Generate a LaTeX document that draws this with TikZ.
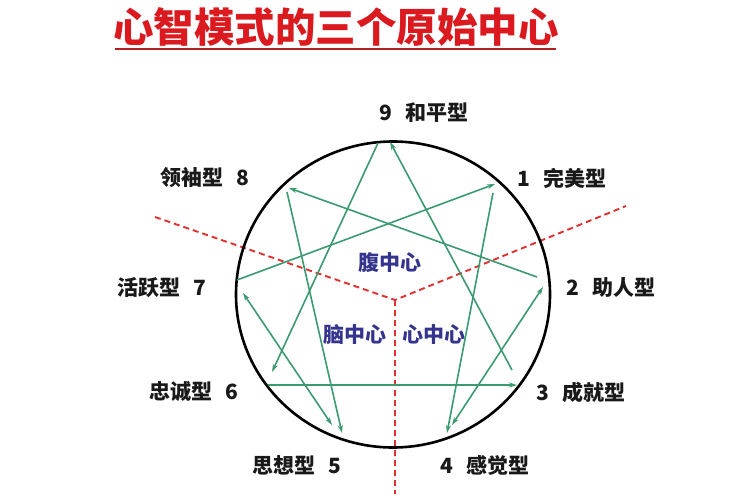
\documentclass[tikz,border=0pt]{standalone}
\usepackage{fontspec}
\setmainfont{Noto Sans CJK SC}
\usepackage{tikz}
\usetikzlibrary{arrows.meta}
\definecolor{titlered}{HTML}{DA1A1F}
\definecolor{linered}{HTML}{B02020}
\definecolor{dashred}{HTML}{E03030}
\definecolor{stargreen}{HTML}{3C9A70}
\definecolor{centerblue}{HTML}{34348C}

\begin{document}
\begin{tikzpicture}[x=1pt, y=-1pt,
    typelabel/.style={font=\fontsize{21}{21}\selectfont\bfseries, text=black!90},
    centerlabel/.style={font=\fontsize{21}{21}\selectfont\bfseries, text=centerblue},
    starline/.style={stargreen, line width=1.6pt, -{Stealth[length=8pt,width=5pt]}},
    bothline/.style={starline, {Stealth[length=8pt,width=5pt]}-{Stealth[length=8pt,width=5pt]}},
    centerline/.style={dashred, line width=1.9pt, dash pattern=on 6pt off 4pt}]
      \useasboundingbox (0, 0) rectangle (750, 500);
      % title
      \node (title) at (336, 27) [font=\fontsize{40.5}{40.5}\selectfont\bfseries, text=titlered] {心智模式的三个原始中心};
      \coordinate (ulA) at (115, 49);
      \coordinate (ulB) at (556, 49);
      \draw[linered, line width=2pt] (ulA) -- (ulB);
      % three centres
      \coordinate (mid) at (395, 300);
      \coordinate (cutL) at (155, 217);
      \coordinate (cutR) at (626, 206);
      \coordinate (cutB) at (395, 494);
      \draw[centerline] (cutL) -- (mid) -- (cutR) (mid) -- (cutB);
      \draw[line width=2.6pt] (393, 294.5) ellipse [x radius=157, y radius=153];
      \node (gut) at (390, 263) [centerlabel] {腹中心};
      \node (head) at (355, 335) [centerlabel] {脑中心};
      \node (heart) at (434, 335) [centerlabel] {心中心};
      % star points
      \coordinate (p9a) at (378, 143);  \coordinate (p9b) at (390, 142);
      \coordinate (p1a) at (495, 184);  \coordinate (p1b) at (493, 193);
      \coordinate (p2a) at (543, 287);  \coordinate (p2b) at (537, 277);
      \coordinate (p3a) at (517, 385);  \coordinate (p3b) at (512, 370);
      \coordinate (p4a) at (447, 433);  \coordinate (p4b) at (452, 425);
      \coordinate (p5a) at (342, 433);  \coordinate (p5b) at (332, 425);
      \coordinate (p6a) at (272, 372);  \coordinate (p6b) at (268, 385);
      \coordinate (p7a) at (243, 293);  \coordinate (p7b) at (237, 280);
      \coordinate (p8a) at (289, 188);  \coordinate (p8b) at (287, 192);
      \draw[starline] (p9a) -- (p6a);
      \draw[starline] (p6b) -- (p3a);
      \draw[starline] (p3b) -- (p9b);
      \draw[starline] (p1b) -- (p4a);
      \draw[bothline] (p4b) -- (p2a);
      \draw[starline] (p2b) -- (p8a);
      \draw[starline] (p8b) -- (p5a);
      \draw[bothline] (p5b) -- (p7a);
      \draw[starline] (p7b) -- (p1a);
      % type labels
      \node (t9) at (424, 113) [typelabel] {9\hspace{.6em}和平型};
      \node (t1) at (562, 178) [typelabel] {1\hspace{.6em}完美型};
      \node (t2) at (611, 288) [typelabel] {2\hspace{.6em}助人型};
      \node (t3) at (581, 392) [typelabel] {3\hspace{.6em}成就型};
      \node (t4) at (485, 465) [typelabel] {4\hspace{.6em}感觉型};
      \node (t5) at (297, 465) [typelabel] {思想型\hspace{.6em}5};
      \node (t6) at (194, 392) [typelabel] {忠诚型\hspace{.6em}6};
      \node (t7) at (162, 288) [typelabel] {活跃型\hspace{.6em}7};
      \node (t8) at (205, 178) [typelabel] {领袖型\hspace{.6em}8};
\end{tikzpicture}
\end{document}
